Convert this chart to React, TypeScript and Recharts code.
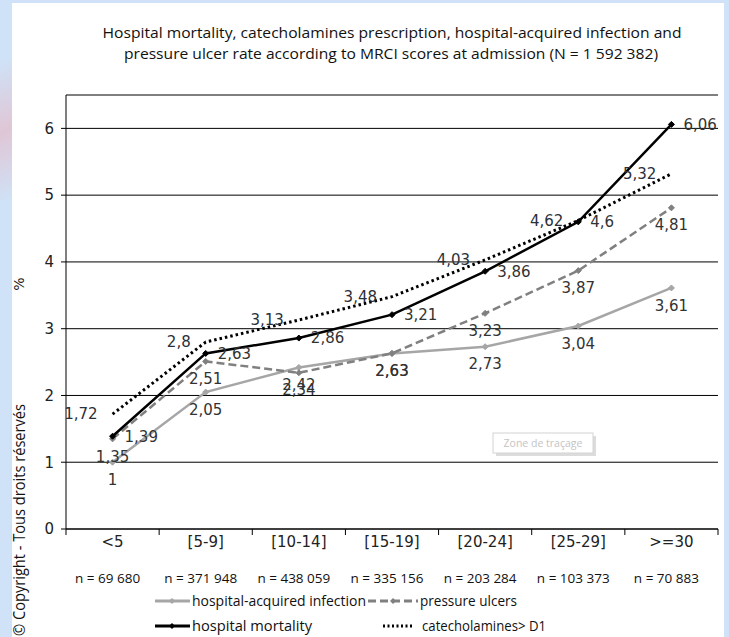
import React from 'react';
import { LineChart, Line, XAxis, YAxis, CartesianGrid, LabelList } from 'recharts';

const categories = ['<5', '[5-9]', '[10-14]', '[15-19]', '[20-24]', '[25-29]', '>=30'];
const counts = ['n = 69 680', 'n = 371 948', 'n = 438 059', 'n = 335 156', 'n = 203 284', 'n = 103 373', 'n = 70 883'];
const infection = [1, 2.05, 2.42, 2.63, 2.73, 3.04, 3.61];
const pressureUlcers = [1.35, 2.51, 2.34, 2.63, 3.23, 3.87, 4.81];
const mortality = [1.39, 2.63, 2.86, 3.21, 3.86, 4.6, 6.06];
const catecholamines = [1.72, 2.8, 3.13, 3.48, 4.03, 4.62, 5.32];
const yTicks = [0, 1, 2, 3, 4, 5, 6];
const titleLines = [
  'Hospital mortality, catecholamines prescription, hospital-acquired infection and',
  'pressure ulcer rate according to MRCI scores at admission (N = 1 592 382)',
];
const legendNames = ['hospital-acquired infection', 'pressure ulcers', 'hospital mortality', 'catecholamines> D1'];

const W = 729;
const H = 637;
const PLOT_LEFT = 66;
const PLOT_RIGHT = 718;
const HALF_BAND = (PLOT_RIGHT - PLOT_LEFT) / categories.length / 2;

const data = categories.map((c, i) => ({
  x: i + 0.5,
  cat: c,
  infection: infection[i],
  pressure: pressureUlcers[i],
  mortality: mortality[i],
  catecho: catecholamines[i],
}));

const xTicks = categories.map((_, i) => i).concat([categories.length]);

const fmt = (v: any) => String(v).replace('.', ',');

const LABEL_FONT = "'DejaVu Sans', Verdana, sans-serif";
const CAL_FONT = "'Open Sans', 'Liberation Sans', sans-serif";

const CatTick = (props: any) => {
  const { x, y, payload } = props;
  const i = payload.value;
  if (i >= categories.length) return null;
  const cx = x + HALF_BAND;
  return (
    <g>
      <text x={cx} y={y + 10} textAnchor="middle" fontFamily={LABEL_FONT} fontSize={15} fill="#222">
        {categories[i]}
      </text>
      <text x={cx - 5} y={y + 46} textAnchor="middle" fontFamily={CAL_FONT} fontSize={13.5} fill="#111">
        {counts[i]}
      </text>
    </g>
  );
};

const makeDot = (color: string) => (props: any) => {
  const { cx, cy, index } = props;
  if (cx == null || cy == null) return <g key={index} />;
  return (
    <path
      key={index}
      d={`M${cx},${cy - 3}L${cx + 3},${cy}L${cx},${cy + 3}L${cx - 3},${cy}Z`}
      fill={color}
      stroke={color}
      strokeWidth={1}
    />
  );
};

export default function App() {
  return (
    <div style={{ position: 'absolute', left: 0, top: 0, width: W, height: H, background: '#cfe2f7', overflow: 'hidden' }}>
      <div
        style={{
          position: 'absolute',
          left: 0,
          top: 60,
          width: 14,
          height: 140,
          background: 'linear-gradient(160deg, rgba(255,255,255,0) 0%, rgba(240,170,180,0.5) 50%, rgba(255,255,255,0) 100%)',
        }}
      />
      <div style={{ position: 'absolute', left: 12, top: 3, width: 712, height: H - 3, background: '#ffffff' }} />
      <div style={{ position: 'absolute', left: 0, top: 0 }}>
        <LineChart width={W} height={H} data={data} margin={{ top: 95, right: W - PLOT_RIGHT, bottom: 48, left: 16 }}>
          <CartesianGrid horizontal={true} vertical={false} stroke="#000" strokeWidth={1} />
          <XAxis
            dataKey="x"
            type="number"
            domain={[0, categories.length]}
            ticks={xTicks}
            interval={0}
            height={60}
            tickSize={6}
            tickMargin={2}
            axisLine={{ stroke: '#000', strokeWidth: 1 }}
            tickLine={{ stroke: '#000', strokeWidth: 1 }}
            tick={<CatTick />}
          />
          <YAxis
            type="number"
            domain={[0, 6.5]}
            ticks={yTicks}
            interval={0}
            width={50}
            tickSize={5}
            tickMargin={7}
            axisLine={{ stroke: '#000', strokeWidth: 1 }}
            tickLine={{ stroke: '#000', strokeWidth: 1 }}
            tick={{ fill: '#222', fontSize: 15, fontFamily: LABEL_FONT }}
          />
          <Line
            dataKey="infection"
            type="linear"
            stroke="#a6a6a6"
            strokeWidth={2.5}
            dot={makeDot('#a6a6a6')}
            activeDot={false}
            isAnimationActive={false}
          >
            <LabelList dataKey="infection" position="bottom" offset={12} formatter={fmt} fill="#333" fontSize={15} fontFamily={LABEL_FONT} />
          </Line>
          <Line
            dataKey="pressure"
            type="linear"
            stroke="#808080"
            strokeWidth={2.5}
            strokeDasharray="8 4"
            dot={makeDot('#808080')}
            activeDot={false}
            isAnimationActive={false}
          >
            <LabelList dataKey="pressure" position="bottom" offset={12} formatter={fmt} fill="#333" fontSize={15} fontFamily={LABEL_FONT} />
          </Line>
          <Line
            dataKey="catecho"
            type="linear"
            stroke="#000"
            strokeWidth={3}
            strokeDasharray="2.5 3"
            dot={false}
            activeDot={false}
            isAnimationActive={false}
          >
            <LabelList dataKey="catecho" position="left" offset={15} formatter={fmt} fill="#2a2f3a" fontSize={15} fontFamily={LABEL_FONT} />
          </Line>
          <Line
            dataKey="mortality"
            type="linear"
            stroke="#000"
            strokeWidth={2.5}
            dot={makeDot('#000')}
            activeDot={false}
            isAnimationActive={false}
          >
            <LabelList dataKey="mortality" position="right" offset={12} formatter={fmt} fill="#333" fontSize={15} fontFamily={LABEL_FONT} />
          </Line>
        </LineChart>
      </div>
      <svg width={W} height={H} style={{ position: 'absolute', left: 0, top: 0, pointerEvents: 'none' }}>
        <text x={392} y={38} textAnchor="middle" fontFamily={CAL_FONT} fontSize={14.5} fill="#111" textLength={579} lengthAdjust="spacingAndGlyphs">
          {titleLines[0]}
        </text>
        <text x={391} y={59} textAnchor="middle" fontFamily={CAL_FONT} fontSize={14.5} fill="#111" textLength={534} lengthAdjust="spacingAndGlyphs">
          {titleLines[1]}
        </text>
        <text x={24} y={284} textAnchor="middle" fontFamily={LABEL_FONT} fontSize={14} fill="#222" transform="rotate(-90 24 284)">
          %
        </text>
        <text x={0} y={0} fontFamily={CAL_FONT} fontSize={15.5} fill="#111" transform="translate(25 636) rotate(-90)" textLength={232} lengthAdjust="spacingAndGlyphs">
          © Copyright - Tous droits réservés
        </text>
        {/* Zone de traçage tooltip */}
        <rect x={496} y={436} width={100} height={20} fill="#dcdcdc" />
        <rect x={493} y={433} width={100} height={20} fill="#fff" stroke="#d4d4d4" strokeWidth={1} />
        <text x={543} y={447} textAnchor="middle" fontFamily={CAL_FONT} fontSize={10.5} fill="#c4c4c4">
          Zone de traçage
        </text>
        {/* legend */}
        <line x1={155} y1={601} x2={190} y2={601} stroke="#a6a6a6" strokeWidth={3} />
        <path d="M172,598L175,601L172,604L169,601Z" fill="#a6a6a6" />
        <text x={192} y={606} fontFamily={CAL_FONT} fontSize={14.5} fill="#111" textLength={174} lengthAdjust="spacingAndGlyphs">
          {legendNames[0]}
        </text>
        <line x1={368} y1={601} x2={418} y2={601} stroke="#808080" strokeWidth={3} strokeDasharray="8 4" />
        <path d="M393,598L396,601L393,604L390,601Z" fill="#808080" />
        <text x={420} y={606} fontFamily={CAL_FONT} fontSize={14.5} fill="#111" textLength={97} lengthAdjust="spacingAndGlyphs">
          {legendNames[1]}
        </text>
        <line x1={155} y1={626} x2={190} y2={626} stroke="#000" strokeWidth={3} />
        <path d="M172,623L175,626L172,629L169,626Z" fill="#000" />
        <text x={192} y={631} fontFamily={CAL_FONT} fontSize={14.5} fill="#111" textLength={120} lengthAdjust="spacingAndGlyphs">
          {legendNames[2]}
        </text>
        <line x1={383} y1={626} x2={414} y2={626} stroke="#000" strokeWidth={3} strokeDasharray="2 2.5" />
        <text x={422} y={631} fontFamily={CAL_FONT} fontSize={14.5} fill="#111" textLength={124} lengthAdjust="spacingAndGlyphs">
          {legendNames[3]}
        </text>
      </svg>
    </div>
  );
}
